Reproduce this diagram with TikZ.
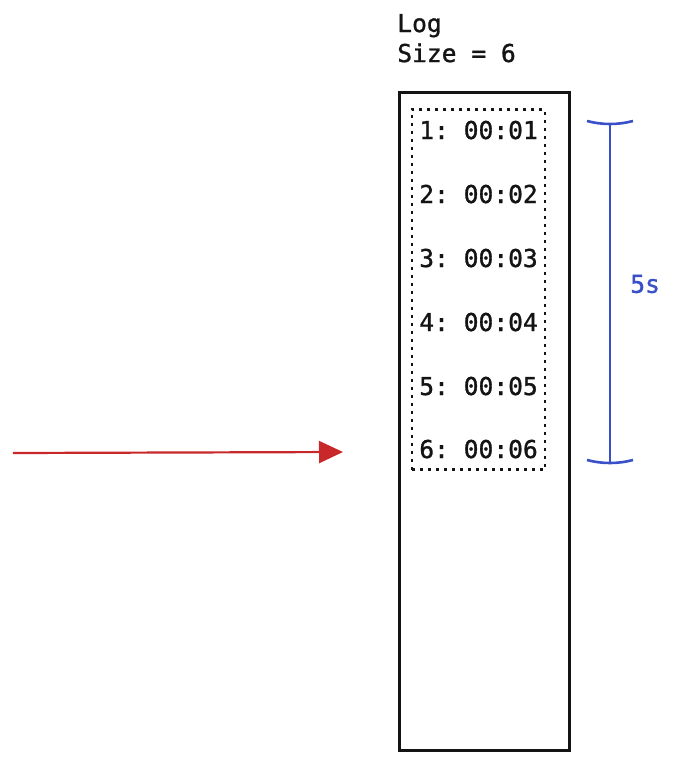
\documentclass[tikz,border=0pt]{standalone}
\usepackage{fontspec}
\setmonofont{DejaVu Sans Mono}[BoldFont={DejaVu Sans Mono}, BoldFeatures={FakeBold=1.2}]
\usetikzlibrary{arrows.meta, positioning, fit}
\definecolor{inkblack}{RGB}{20, 20, 20}
\definecolor{spanblue}{RGB}{58, 80, 200}
\definecolor{feedred}{RGB}{200, 40, 42}

\begin{document}
\begin{tikzpicture}[x=1pt, y=-1pt, line width=2.6pt,
    every node/.style={font=\ttfamily\bfseries\fontsize{24.6}{30}\selectfont, inner sep=0pt},
    entry/.style={anchor=base west, inkblack}]
    \useasboundingbox (0,0) rectangle (674,763);

    % title
    \node[entry] (title) at (396,32) {Log};
    \node[entry] (size) at (396,62) {Size = 6};

    % log column
    \node[draw=inkblack, minimum width=170pt, minimum height=658pt, anchor=north west] (log) at (398,91) {};

    % entries
    \foreach \i in {1,...,6}
        \node[entry] (e\i) at (418,{139+64*(\i-1)-(\i==6?1:0)}) {\i: 00:0\i};

    \node[draw=inkblack, dash pattern=on 3pt off 5pt, line width=2.4pt,
          fit=(e1)(e6), inner xsep=6pt, inner ysep=10pt] (window) {};

    % time span
    \coordinate (spantop) at (610,123);
    \coordinate (spanbot) at (610,462);
    \draw[spanblue] (spantop) -- (spanbot);
    \draw[spanblue] ([xshift=-23pt,yshift=2pt]spantop) .. controls ([xshift=-8pt,yshift=-2pt]spantop) and ([xshift=8pt,yshift=-2pt]spantop) .. ([xshift=23pt,yshift=2pt]spantop);
    \draw[spanblue] ([xshift=-23pt,yshift=2pt]spanbot) .. controls ([xshift=-8pt,yshift=-2pt]spanbot) and ([xshift=8pt,yshift=-2pt]spanbot) .. ([xshift=23pt,yshift=2pt]spanbot);
    \node[spanblue, anchor=west] (span) at (629,284) {5s};

    % incoming write
    \coordinate (src) at (13,453);
    \coordinate (dst) at (343,452);
    \draw[-{Triangle[length=24pt, width=22pt]}, feedred, line width=2.2pt] (src) -- (dst);
\end{tikzpicture}
\end{document}
